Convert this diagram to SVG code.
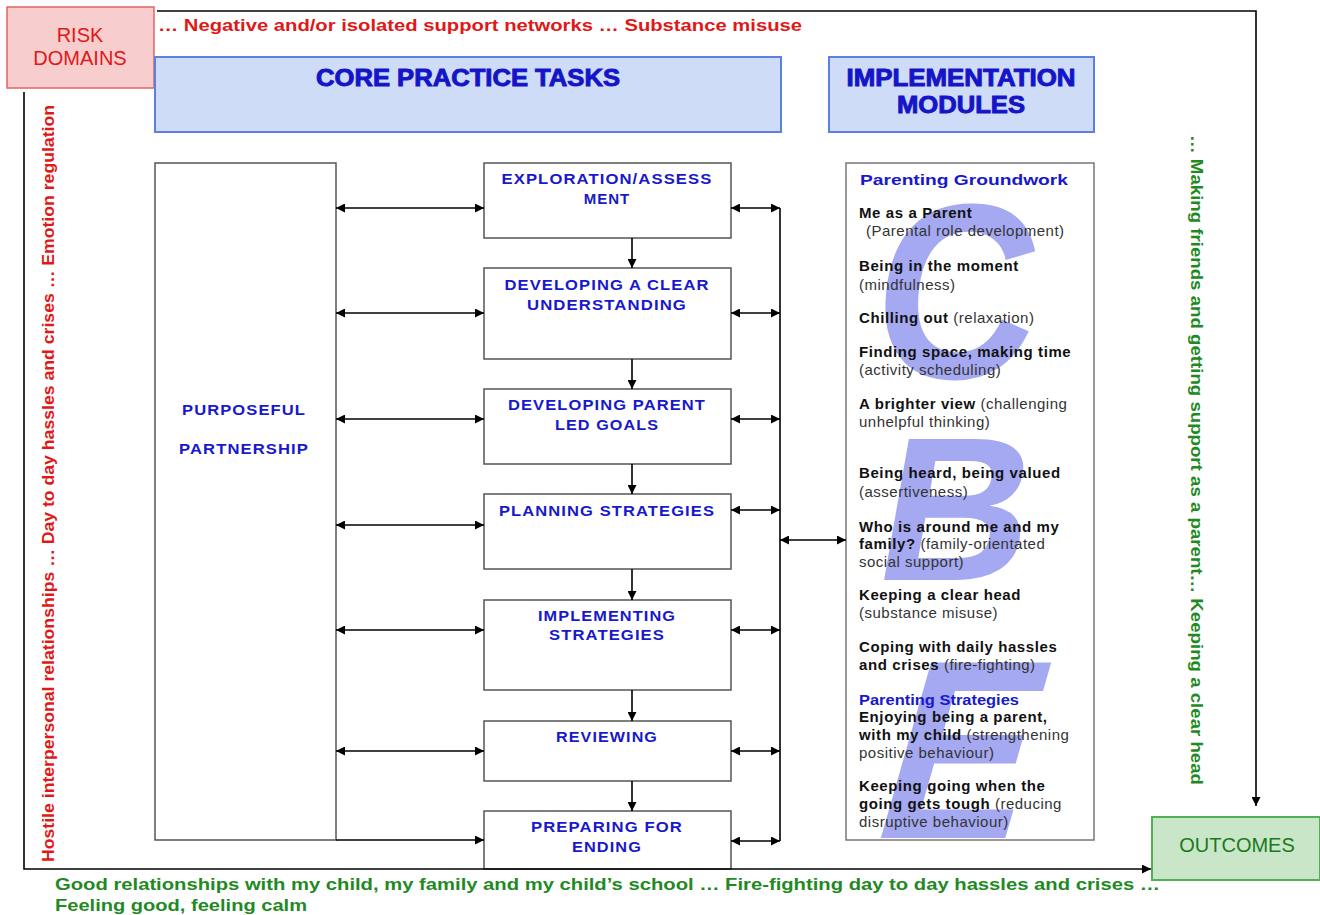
<svg xmlns="http://www.w3.org/2000/svg" width="1320" height="915" viewBox="0 0 1320 915">
<defs>
<marker id="arr" viewBox="0 0 10 10" refX="10" refY="5" markerWidth="10" markerHeight="9" markerUnits="userSpaceOnUse" orient="auto-start-reverse">
<path d="M0,0 L10,5 L0,10 z" fill="#000"/>
</marker>
<style>
.ln{stroke:#000;stroke-width:1.6;fill:none}
.bx{fill:#fff;stroke:#555;stroke-width:1.5}
.hd{fill:#cfdcf8;stroke:#5b80e2;stroke-width:2}
.hdt{font-family:"Liberation Sans",Arial,sans-serif;font-weight:bold;font-size:23px;fill:#1414c8;stroke:#1414c8;stroke-width:0.9;text-anchor:middle}
.bt{font-family:"Liberation Sans",Arial,sans-serif;font-weight:bold;font-size:15px;fill:#1818cc;text-anchor:middle;letter-spacing:1px}
.red{font-family:"Liberation Sans",Arial,sans-serif;font-weight:bold;font-size:17px;fill:#e01818}
.grn{font-family:"Liberation Sans",Arial,sans-serif;font-weight:bold;font-size:17px;fill:#1f8a1f}
.mb{font-family:"Liberation Sans",Arial,sans-serif;font-weight:bold;font-size:15px;fill:#111;letter-spacing:0.6px}
.mn{font-family:"Liberation Sans",Arial,sans-serif;font-weight:normal;font-size:15px;fill:#333;letter-spacing:0.5px}
.mh{font-family:"Liberation Sans",Arial,sans-serif;font-weight:bold;font-size:15px;fill:#1818cc}
.big{font-family:"Liberation Sans",Arial,sans-serif;font-weight:bold;fill:#a4a9f2}
</style>
</defs>

<g id="risk-domains">
<rect x="7" y="7" width="147" height="81" fill="#f8cdcd" stroke="#e06464" stroke-width="1.5"/>
<text x="80" y="42" font-family="Liberation Sans,Arial,sans-serif" font-size="20" fill="#e01818" text-anchor="middle">RISK</text>
<text x="80" y="65" font-family="Liberation Sans,Arial,sans-serif" font-size="20" fill="#e01818" text-anchor="middle">DOMAINS</text>
</g>

<g id="outcomes">
<rect x="1152" y="817" width="168" height="63" fill="#c9e6c9" stroke="#52b052" stroke-width="2"/>
<text x="1237" y="852" font-family="Liberation Sans,Arial,sans-serif" font-size="20" fill="#1a7a1a" text-anchor="middle">OUTCOMES</text>
</g>

<g id="risk-labels">
<text class="red" x="158" y="31" textLength="644" lengthAdjust="spacingAndGlyphs">… Negative and/or isolated support networks … Substance misuse</text>
<text class="red" transform="translate(54,862) rotate(-90)" x="0" y="0" textLength="757" lengthAdjust="spacingAndGlyphs">Hostile interpersonal relationships … Day to day hassles and crises … Emotion regulation</text>
</g>

<g id="outcome-labels">
<text class="grn" transform="translate(1191,135) rotate(90)" x="0" y="0" textLength="650" lengthAdjust="spacingAndGlyphs">… Making friends and getting support as a parent… Keeping a clear head</text>
<text class="grn" x="55" y="890" textLength="1105" lengthAdjust="spacingAndGlyphs">Good relationships with my child, my family and my child’s school … Fire-fighting day to day hassles and crises …</text>
<text class="grn" x="55" y="911" textLength="252" lengthAdjust="spacingAndGlyphs">Feeling good, feeling calm</text>
</g>

<g id="core-practice-tasks">
<rect class="hd" x="155" y="57" width="626" height="75"/>
<text class="hdt" x="468" y="86" textLength="304" lengthAdjust="spacingAndGlyphs">CORE PRACTICE TASKS</text>
</g>

<g id="implementation-modules">
<rect class="hd" x="829" y="57" width="265" height="75"/>
<text class="hdt" x="961" y="86" textLength="229" lengthAdjust="spacingAndGlyphs">IMPLEMENTATION</text>
<text class="hdt" x="961" y="113" textLength="128" lengthAdjust="spacingAndGlyphs">MODULES</text>
</g>

<g id="purposeful-partnership">
<rect class="bx" x="155" y="163" width="181" height="677"/>
<text class="bt" x="244" y="415" textLength="124" lengthAdjust="spacingAndGlyphs">PURPOSEFUL</text>
<text class="bt" x="244" y="454" textLength="130" lengthAdjust="spacingAndGlyphs">PARTNERSHIP</text>
</g>

<g id="exploration">
<rect class="bx" x="484" y="163" width="247" height="75"/>
<text class="bt" x="607" y="184" textLength="211" lengthAdjust="spacingAndGlyphs">EXPLORATION/ASSESS</text>
<text class="bt" x="607" y="204">MENT</text>
</g>
<g id="developing-understanding">
<rect class="bx" x="484" y="268" width="247" height="91"/>
<text class="bt" x="607" y="290" textLength="205" lengthAdjust="spacingAndGlyphs">DEVELOPING A CLEAR</text>
<text class="bt" x="607" y="310" textLength="160" lengthAdjust="spacingAndGlyphs">UNDERSTANDING</text>
</g>
<g id="developing-goals">
<rect class="bx" x="484" y="389" width="247" height="75"/>
<text class="bt" x="607" y="410" textLength="198" lengthAdjust="spacingAndGlyphs">DEVELOPING PARENT</text>
<text class="bt" x="607" y="430" textLength="104" lengthAdjust="spacingAndGlyphs">LED GOALS</text>
</g>
<g id="planning">
<rect class="bx" x="484" y="494" width="247" height="75"/>
<text class="bt" x="607" y="516" textLength="216" lengthAdjust="spacingAndGlyphs">PLANNING STRATEGIES</text>
</g>
<g id="implementing">
<rect class="bx" x="484" y="600" width="247" height="90"/>
<text class="bt" x="607" y="621" textLength="138" lengthAdjust="spacingAndGlyphs">IMPLEMENTING</text>
<text class="bt" x="607" y="640" textLength="116" lengthAdjust="spacingAndGlyphs">STRATEGIES</text>
</g>
<g id="reviewing">
<rect class="bx" x="484" y="721" width="247" height="60"/>
<text class="bt" x="607" y="742" textLength="102" lengthAdjust="spacingAndGlyphs">REVIEWING</text>
</g>
<g id="preparing">
<rect class="bx" x="484" y="811" width="247" height="58"/>
<text class="bt" x="607" y="832" textLength="152" lengthAdjust="spacingAndGlyphs">PREPARING FOR</text>
<text class="bt" x="607" y="852" textLength="70" lengthAdjust="spacingAndGlyphs">ENDING</text>
</g>

<g id="modules">
<rect x="846" y="163" width="248" height="677" fill="#fff" stroke="#777" stroke-width="1.5"/>
<text class="big" transform="translate(868,378) skewX(-6)" x="0" y="0" font-size="250" textLength="162" lengthAdjust="spacingAndGlyphs">C</text>
<text class="big" transform="translate(870,580) skewX(-10)" x="0" y="0" font-size="205" textLength="152" lengthAdjust="spacingAndGlyphs">B</text>
<text class="big" transform="translate(866,838) skewX(-16)" x="0" y="0" font-size="255" textLength="148" lengthAdjust="spacingAndGlyphs">E</text>
<text class="mh" x="860" y="185" textLength="208" lengthAdjust="spacingAndGlyphs">Parenting Groundwork</text>
<text class="mb" x="859" y="218">Me as a Parent</text>
<text class="mn" x="866" y="236">(Parental role development)</text>
<text class="mb" x="859" y="271">Being in the moment</text>
<text class="mn" x="859" y="290">(mindfulness)</text>
<text x="859" y="323"><tspan class="mb">Chilling out</tspan><tspan class="mn"> (relaxation)</tspan></text>
<text class="mb" x="859" y="357">Finding space, making time</text>
<text class="mn" x="859" y="375">(activity scheduling)</text>
<text x="859" y="409"><tspan class="mb">A brighter view</tspan><tspan class="mn"> (challenging</tspan></text>
<text class="mn" x="859" y="427">unhelpful thinking)</text>
<text class="mb" x="859" y="478">Being heard, being valued</text>
<text class="mn" x="859" y="497">(assertiveness)</text>
<text class="mb" x="859" y="532">Who is around me and my</text>
<text x="859" y="549"><tspan class="mb">family?</tspan><tspan class="mn"> (family-orientated</tspan></text>
<text class="mn" x="859" y="567">social support)</text>
<text class="mb" x="859" y="600">Keeping a clear head</text>
<text class="mn" x="859" y="618">(substance misuse)</text>
<text class="mb" x="859" y="652">Coping with daily hassles</text>
<text x="859" y="670"><tspan class="mb">and crises</tspan><tspan class="mn"> (fire-fighting)</tspan></text>
<text class="mh" x="859" y="705" textLength="160" lengthAdjust="spacingAndGlyphs">Parenting Strategies</text>
<text class="mb" x="859" y="722">Enjoying being a parent,</text>
<text x="859" y="740"><tspan class="mb">with my child</tspan><tspan class="mn"> (strengthening</tspan></text>
<text class="mn" x="859" y="758">positive behaviour)</text>
<text class="mb" x="859" y="791">Keeping going when the</text>
<text x="859" y="809"><tspan class="mb">going gets tough</tspan><tspan class="mn"> (reducing</tspan></text>
<text class="mn" x="859" y="827">disruptive behaviour)</text>
</g>

<g id="connectors">
<polyline class="ln" points="157,11 1256,11 1256,806" marker-end="url(#arr)"/>
<polyline class="ln" points="24,92 24,869 1151,869" marker-end="url(#arr)"/>
<line class="ln" x1="336" y1="208" x2="484" y2="208" marker-start="url(#arr)" marker-end="url(#arr)"/>
<line class="ln" x1="336" y1="313" x2="484" y2="313" marker-start="url(#arr)" marker-end="url(#arr)"/>
<line class="ln" x1="336" y1="419" x2="484" y2="419" marker-start="url(#arr)" marker-end="url(#arr)"/>
<line class="ln" x1="336" y1="525" x2="484" y2="525" marker-start="url(#arr)" marker-end="url(#arr)"/>
<line class="ln" x1="336" y1="630" x2="484" y2="630" marker-start="url(#arr)" marker-end="url(#arr)"/>
<line class="ln" x1="336" y1="751" x2="484" y2="751" marker-start="url(#arr)" marker-end="url(#arr)"/>
<line class="ln" x1="336" y1="840" x2="484" y2="840" marker-end="url(#arr)"/>
<line class="ln" x1="731" y1="208" x2="780" y2="208" marker-start="url(#arr)" marker-end="url(#arr)"/>
<line class="ln" x1="731" y1="313" x2="780" y2="313" marker-start="url(#arr)" marker-end="url(#arr)"/>
<line class="ln" x1="731" y1="419" x2="780" y2="419" marker-start="url(#arr)" marker-end="url(#arr)"/>
<line class="ln" x1="731" y1="510" x2="780" y2="510" marker-start="url(#arr)" marker-end="url(#arr)"/>
<line class="ln" x1="731" y1="630" x2="780" y2="630" marker-start="url(#arr)" marker-end="url(#arr)"/>
<line class="ln" x1="731" y1="751" x2="780" y2="751" marker-start="url(#arr)" marker-end="url(#arr)"/>
<line class="ln" x1="731" y1="841" x2="780" y2="841" marker-start="url(#arr)" marker-end="url(#arr)"/>
<line class="ln" x1="780" y1="208" x2="780" y2="841"/>
<line class="ln" x1="780" y1="540" x2="846" y2="540" marker-start="url(#arr)" marker-end="url(#arr)"/>
<line class="ln" x1="632" y1="238" x2="632" y2="268" marker-end="url(#arr)"/>
<line class="ln" x1="632" y1="359" x2="632" y2="389" marker-end="url(#arr)"/>
<line class="ln" x1="632" y1="464" x2="632" y2="494" marker-end="url(#arr)"/>
<line class="ln" x1="632" y1="569" x2="632" y2="600" marker-end="url(#arr)"/>
<line class="ln" x1="632" y1="690" x2="632" y2="721" marker-end="url(#arr)"/>
<line class="ln" x1="632" y1="781" x2="632" y2="811" marker-end="url(#arr)"/>
</g>
</svg>
